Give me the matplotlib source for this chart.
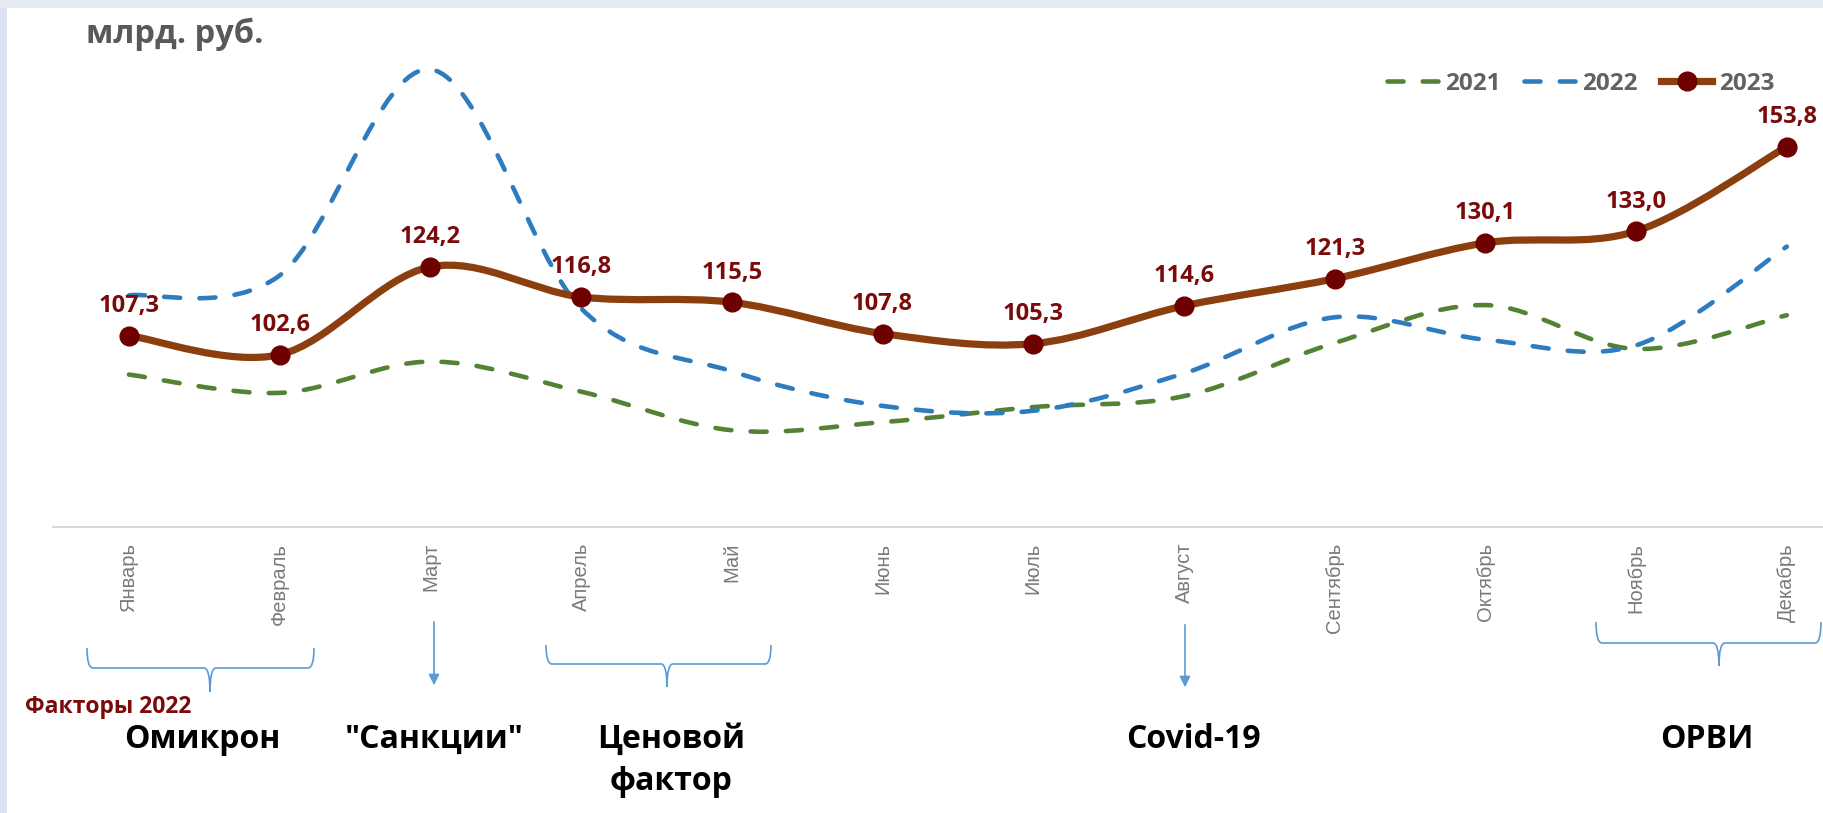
import matplotlib
matplotlib.use('Agg')
import matplotlib.pyplot as plt
from matplotlib.path import Path
from matplotlib.patches import PathPatch, Rectangle, FancyArrowPatch
from matplotlib.lines import Line2D
import numpy as np

# ---------------- data ----------------
months = ['Январь', 'Февраль', 'Март', 'Апрель', 'Май', 'Июнь',
          'Июль', 'Август', 'Сентябрь', 'Октябрь', 'Ноябрь', 'Декабрь']
v2021 = [97.7, 93.2, 100.9, 93.5, 84.0, 86.0, 89.7, 92.4, 105.5, 114.8, 104.0, 112.3]
v2022 = [117.2, 122.1, 172.8, 114.0, 98.5, 90.0, 88.8, 98.0, 111.8, 106.3, 104.9, 129.2]
v2023 = [107.3, 102.6, 124.2, 116.8, 115.5, 107.8, 105.3, 114.6, 121.3, 130.1, 133.0, 153.8]
series_names = ['2021', '2022', '2023']
title = 'млрд. руб.'
factors_title = 'Факторы 2022'

# ---------------- style ----------------
W, H = 1823, 813
GREEN = '#548235'
BLUE = '#2e7cc0'
BROWN = '#8b3f0f'
MARKER = '#6e0000'
LABEL = '#7b0a0a'
BRACE = '#5b9bd5'
FONT = 'Open Sans'

fig = plt.figure(figsize=(W / 100, H / 100), dpi=100)
fig.patch.set_facecolor('white')


def fx(x):
    return x / W


def fy(y):
    return 1 - y / H


# frame strips (left and top)
fig.patches.append(Rectangle((0, 0), fx(7), 1, transform=fig.transFigure,
                             facecolor='#dde4f1', edgecolor='none', zorder=0))
fig.patches.append(Rectangle((0, fy(8)), 1, 8 / H, transform=fig.transFigure,
                             facecolor='#e7ebf3', edgecolor='none', zorder=0))

ax = fig.add_axes([fx(53), fy(527), fx(1823 - 53), (527 - 8) / H])
ax.set_facecolor('none')
ax.set_xlim(-0.504, 11.24)
ax.set_ylim(60.2, 187.9)
for s in ['top', 'right', 'left']:
    ax.spines[s].set_visible(False)
ax.spines['bottom'].set_color('#d9d9d9')
ax.spines['bottom'].set_linewidth(1.5)
ax.set_yticks([])
x = np.arange(len(months))
ax.set_xticks(x)
ax.set_xticklabels(months, rotation=90, ha='center', va='top',
                   fontfamily='Liberation Sans', fontsize=14.5, color='#7a7a7a')
ax.tick_params(axis='x', length=0, pad=11.5)


def smooth_path(xs, ys):
    pts = np.column_stack([xs, ys]).astype(float)
    n = len(pts)
    verts = [pts[0]]
    codes = [Path.MOVETO]
    for i in range(n - 1):
        p0 = pts[i - 1] if i > 0 else pts[i]
        p1 = pts[i]
        p2 = pts[i + 1]
        p3 = pts[i + 2] if i + 2 < n else pts[i + 1]
        c1 = p1 + (p2 - p0) / 6.0
        c2 = p2 - (p3 - p1) / 6.0
        verts += [c1, c2, p2]
        codes += [Path.CURVE4] * 3
    return Path(verts, codes)


DASH = (0, (3.5, 4.2))
DLW = 3.3
ax.add_patch(PathPatch(smooth_path(x, v2021), fill=False, edgecolor=GREEN, lw=DLW,
                       linestyle=DASH, capstyle='round', joinstyle='round', zorder=2))
ax.add_patch(PathPatch(smooth_path(x, v2022), fill=False, edgecolor=BLUE, lw=DLW,
                       linestyle=DASH, capstyle='round', joinstyle='round', zorder=3))
ax.add_patch(PathPatch(smooth_path(x, v2023), fill=False, edgecolor=BROWN, lw=5.2,
                       capstyle='round', joinstyle='round', zorder=4))
ax.plot(x, v2023, linestyle='none', marker='o', markersize=13.5,
        markerfacecolor=MARKER, markeredgecolor=MARKER, zorder=5)

for xi, v in zip(x, v2023):
    ax.annotate(f'{v:.1f}'.replace('.', ','), (xi, v), xytext=(0, 17),
                textcoords='offset points', ha='center', va='baseline',
                fontfamily=FONT, fontweight='bold', fontsize=17, color=LABEL,
                zorder=6)

# legend
handles = [
    Line2D([], [], color=GREEN, lw=DLW, linestyle=DASH, dash_capstyle='round'),
    Line2D([], [], color=BLUE, lw=DLW, linestyle=DASH, dash_capstyle='round'),
    Line2D([], [], color=BROWN, lw=5.2, marker='o', markersize=13.5,
           markerfacecolor=MARKER, markeredgecolor=MARKER),
]
leg = ax.legend(handles, series_names, ncol=3, loc='center left',
                bbox_to_anchor=(fx(1375), fy(84)), bbox_transform=fig.transFigure,
                frameon=False, borderpad=0, handlelength=2.1, handletextpad=0.3,
                columnspacing=0.95,
                prop={'family': FONT, 'size': 17.5, 'weight': 'bold'})
for t in leg.get_texts():
    t.set_color('#626262')

# title
fig.text(fx(86), fy(43), title, ha='left', va='baseline', fontfamily=FONT,
         fontweight='bold', fontsize=23.5, color='#595959')

# ---------------- factor annotations ----------------
fig.text(fx(25), fy(713), factors_title, ha='left', va='baseline', fontfamily=FONT,
         fontweight='bold', fontsize=16.5, color=LABEL)

big = dict(ha='center', va='baseline', fontfamily=FONT, fontweight='bold',
           fontsize=23, color='black')
fig.text(fx(202), fy(748), 'Омикрон', **big)
fig.text(fx(434), fy(748), '"Санкции"', **big)
fig.text(fx(671), fy(748), 'Ценовой', **big)
fig.text(fx(671), fy(790), 'фактор', **big)
fig.text(fx(1193), fy(748), 'Covid-19', **big)
fig.text(fx(1707), fy(748), 'ОРВИ', **big)


def brace(x0, x1, xc, ytop, yh, ytip):
    r = 6
    pts = [(x0, ytop), (x0, yh), (x0 + r, yh),
           (xc - r, yh), (xc, yh), (xc, ytip),
           (xc, ytip), (xc, yh), (xc + r, yh),
           (x1 - r, yh), (x1, yh), (x1, ytop)]
    codes = [Path.MOVETO, Path.CURVE3, Path.CURVE3,
             Path.LINETO, Path.CURVE3, Path.CURVE3,
             Path.MOVETO, Path.CURVE3, Path.CURVE3,
             Path.LINETO, Path.CURVE3, Path.CURVE3]
    verts = [(fx(a), fy(b)) for a, b in pts]
    fig.patches.append(PathPatch(Path(verts, codes), transform=fig.transFigure,
                                 fill=False, edgecolor=BRACE, lw=1.2))


brace(87, 314, 210, 648, 668, 692)
brace(546, 771, 667, 645, 664, 687)
brace(1596, 1821, 1719, 622, 643, 666)


def arrow(xp, y0, y1):
    fig.patches.append(FancyArrowPatch(
        (fx(xp), fy(y0)), (fx(xp), fy(y1)), transform=fig.transFigure,
        arrowstyle='-|>', mutation_scale=16, color=BRACE, lw=1.2))


arrow(434, 619, 688)
arrow(1185, 622, 690)

fig.savefig('out.png', dpi=100)
